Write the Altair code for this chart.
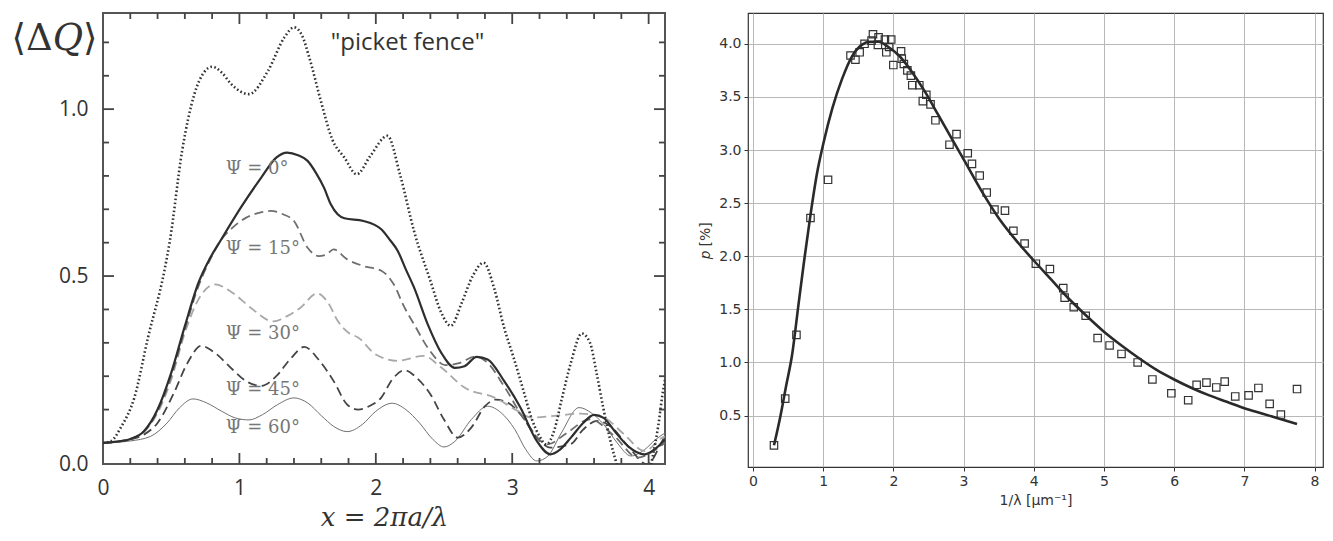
import altair as alt
import pandas as pd

# ---------------- Left panel: <ΔQ> versus x ----------------
pf_x = [0, 0.06, 0.13, 0.23, 0.33, 0.45, 0.49, 0.58, 0.67, 0.74, 0.80, 0.87, 0.94, 1.07, 1.21, 1.33, 1.40, 1.46,
        1.51, 1.60, 1.68, 1.77, 1.86, 1.96, 2.085, 2.18, 2.28, 2.40, 2.48, 2.55, 2.63, 2.71, 2.79, 2.87, 2.94,
        3.01, 3.08, 3.14, 3.20, 3.25, 3.31, 3.36, 3.43, 3.51, 3.57, 3.62, 3.67, 3.72, 3.77, 3.83, 3.90, 3.97,
        4.03, 4.07, 4.10, 4.12]
pf_y = [0, 0.006, 0.046, 0.136, 0.316, 0.516, 0.605, 0.875, 1.045, 1.11, 1.127, 1.11, 1.075, 1.045, 1.115, 1.215,
        1.245, 1.22, 1.158, 1.02, 0.91, 0.855, 0.805, 0.86, 0.92, 0.80, 0.635, 0.486, 0.39, 0.351, 0.42, 0.50,
        0.54, 0.46, 0.346, 0.256, 0.16, 0.076, 0.02, -0.004, 0.04, 0.126, 0.24, 0.328, 0.30, 0.206, 0.10, 0.006,
        -0.069, -0.15, -0.2, -0.15, -0.04, 0.05, 0.141, 0.19]

p0_x = [0, 0.1, 0.2, 0.3, 0.4, 0.5, 0.6, 0.7, 0.78, 0.86, 1.01, 1.16, 1.27, 1.35, 1.43, 1.50, 1.56, 1.62,
        1.67, 1.72, 1.77, 1.91, 2.04, 2.10, 2.16, 2.22, 2.28, 2.38, 2.48, 2.58, 2.65, 2.74, 2.82, 2.94, 3.06,
        3.18, 3.28, 3.35, 3.43, 3.52, 3.60, 3.67, 3.75, 3.85, 3.97, 4.04, 4.12]
p0_y = [0, 0.004, 0.012, 0.035, 0.10, 0.21, 0.35, 0.48, 0.55, 0.605, 0.705, 0.795, 0.855, 0.870, 0.862,
        0.845, 0.81, 0.765, 0.715, 0.685, 0.673, 0.665, 0.64, 0.61, 0.576, 0.52, 0.466, 0.356, 0.27, 0.225,
        0.23, 0.258, 0.25, 0.186, 0.106, 0.006, -0.034, -0.02, 0.016, 0.06, 0.084, 0.075, 0.036, -0.01, -0.034,
        -0.02, 0.01]

p15_x = [0, 0.1, 0.2, 0.3, 0.4, 0.5, 0.6, 0.7, 0.78, 0.86, 0.95, 1.05, 1.15, 1.23, 1.32, 1.40, 1.50, 1.58,
         1.64, 1.69, 1.79, 1.91, 2.04, 2.13, 2.21, 2.28, 2.39, 2.51, 2.61, 2.73, 2.82, 2.94, 3.09, 3.26, 3.40,
         3.57, 3.75, 3.92, 4.05, 4.12]
p15_y = [0, 0.004, 0.012, 0.034, 0.095, 0.20, 0.34, 0.47, 0.545, 0.605, 0.645, 0.675, 0.69, 0.695, 0.685, 0.665,
         0.585, 0.56, 0.565, 0.58, 0.55, 0.53, 0.516, 0.476, 0.406, 0.356, 0.28, 0.233, 0.239, 0.259, 0.24, 0.17,
         0.07, -0.004, 0.03, 0.071, 0.02, -0.044, -0.02, 0.0]

p30_x = [0, 0.1, 0.2, 0.3, 0.4, 0.5, 0.6, 0.7, 0.82, 0.95, 1.08, 1.25, 1.35, 1.45, 1.57, 1.65, 1.72,
         1.80, 1.87, 2.0, 2.16, 2.35, 2.48, 2.65, 2.87, 3.04, 3.14, 3.31, 3.50, 3.67, 3.82, 3.97, 4.10, 4.12]
p30_y = [0, 0.004, 0.012, 0.033, 0.09, 0.19, 0.33, 0.43, 0.475, 0.45, 0.406, 0.364, 0.38, 0.406, 0.448,
         0.42, 0.366, 0.33, 0.316, 0.265, 0.246, 0.261, 0.226, 0.166, 0.136, 0.096, 0.076, 0.081, 0.088, 0.076,
         0.026, -0.024, 0.016, 0.02]

p45_x = [0, 0.1, 0.2, 0.3, 0.4, 0.52, 0.62, 0.72, 0.82, 0.95, 1.05, 1.16, 1.27, 1.38, 1.475, 1.58, 1.69, 1.79,
         1.87, 1.95, 2.04, 2.12, 2.21, 2.30, 2.40, 2.50, 2.60, 2.70, 2.80, 2.88, 2.97, 3.06, 3.18, 3.28, 3.43,
         3.52, 3.62, 3.72, 3.85, 3.99, 4.10, 4.12]
p45_y = [0, 0.003, 0.01, 0.025, 0.06, 0.15, 0.24, 0.291, 0.27, 0.22, 0.185, 0.171, 0.20, 0.255, 0.288, 0.25,
         0.186, 0.115, 0.10, 0.11, 0.136, 0.19, 0.218, 0.195, 0.146, 0.07, 0.016, 0.046, 0.11, 0.13, 0.12, 0.086,
         0.016, -0.014, -0.003, 0.04, 0.066, 0.05, -0.01, -0.064, 0.006, 0.02]

p60_x = [0, 0.1, 0.2, 0.35, 0.47, 0.56, 0.66, 0.76, 0.87, 0.97, 1.07, 1.17, 1.28, 1.40, 1.50, 1.60, 1.69, 1.79,
         1.90, 2.00, 2.12, 2.22, 2.32, 2.42, 2.50, 2.58, 2.70, 2.82, 2.92, 3.02, 3.10, 3.18, 3.26, 3.36, 3.49,
         3.58, 3.67, 3.77, 3.87, 3.97, 4.05, 4.12]
p60_y = [0, 0.002, 0.006, 0.02, 0.06, 0.105, 0.132, 0.12, 0.095, 0.075, 0.069, 0.085, 0.115, 0.135, 0.12, 0.082,
         0.05, 0.034, 0.055, 0.095, 0.119, 0.10, 0.06, 0.01, -0.012, 0.005, 0.07, 0.11, 0.09, 0.04, -0.02, -0.054,
         -0.04, 0.03, 0.106, 0.09, 0.056, 0.0, -0.039, -0.02, 0.01, 0.03]

psi_labels = ["Ψ = 0°", "Ψ = 15°", "Ψ = 30°", "Ψ = 45°", "Ψ = 60°"]
psi_lab_x = [0.90, 0.90, 0.90, 0.90, 0.90]
psi_lab_y = [0.821, 0.582, 0.327, 0.159, 0.045]
fence_label = ['"picket fence"']
fence_x = [1.67]
fence_y = [1.199]

xl_ticks_minor = [0.2, 0.4, 0.6, 0.8, 1.2, 1.4, 1.6, 1.8, 2.2, 2.4, 2.6, 2.8, 3.2, 3.4, 3.6, 3.8]
xl_ticks_major = [1, 2, 3, 4]
yl_ticks_minor = [0.1, 0.2, 0.3, 0.4, 0.6, 0.7, 0.8, 0.9, 1.1, 1.2]
yl_ticks_major = [0.5, 1.0]
xl_labels = [0, 1, 2, 3, 4]
xl_min, xl_max = 0.0, 4.12
yl_bottom, yl_top = -0.063, 1.288
yl_labels = [yl_bottom, 0.5, 1.0]

# ---------------- Right panel: p versus 1/lambda ----------------
obs_x = [0.30, 0.46, 0.62, 0.82, 1.07, 1.39, 1.46, 1.52, 1.59, 1.69, 1.71, 1.79, 1.78, 1.88, 1.90, 1.97, 1.94,
         2.00, 2.11, 2.12, 2.15, 2.20, 2.25, 2.27, 2.37, 2.42, 2.47, 2.53, 2.60, 2.80, 2.90, 3.06, 3.12, 3.23,
         3.33, 3.44, 3.59, 3.71, 3.87, 4.03, 4.23, 4.42, 4.44, 4.57, 4.74, 4.91, 5.08, 5.25, 5.48, 5.69, 5.96,
         6.20, 6.32, 6.46, 6.60, 6.72, 6.87, 7.06, 7.20, 7.36, 7.52, 7.75]
obs_p = [0.22, 0.66, 1.26, 2.36, 2.72, 3.89, 3.85, 3.92, 4.00, 4.03, 4.09, 4.06, 3.99, 4.04, 3.92, 4.04, 3.97,
         3.80, 3.93, 3.86, 3.81, 3.75, 3.70, 3.61, 3.61, 3.46, 3.52, 3.43, 3.28, 3.05, 3.15, 2.97, 2.87, 2.76,
         2.60, 2.44, 2.43, 2.24, 2.12, 1.93, 1.88, 1.70, 1.61, 1.52, 1.44, 1.23, 1.16, 1.08, 1.00, 0.84, 0.71,
         0.645, 0.79, 0.81, 0.765, 0.82, 0.68, 0.69, 0.76, 0.61, 0.51, 0.75]

fit_x = [0.30, 0.39, 0.47, 0.56, 0.65, 0.73, 0.82, 0.91, 1.01, 1.13, 1.27, 1.41, 1.55, 1.67, 1.79, 1.93, 2.08,
         2.26, 2.45, 2.64, 2.83, 3.02, 3.26, 3.50, 3.76, 4.00, 4.25, 4.50, 4.75, 5.00, 5.25, 5.50, 5.75, 6.00,
         6.25, 6.50, 6.75, 7.00, 7.25, 7.50, 7.75]
fit_p = [0.22, 0.49, 0.77, 1.08, 1.55, 1.96, 2.39, 2.77, 3.08, 3.39, 3.67, 3.88, 3.99, 4.02, 4.02, 3.97, 3.89,
         3.74, 3.55, 3.33, 3.11, 2.89, 2.61, 2.36, 2.14, 1.96, 1.78, 1.60, 1.44, 1.29, 1.16, 1.04, 0.93, 0.84,
         0.76, 0.69, 0.63, 0.57, 0.52, 0.47, 0.42]

xr_ticks = [0, 1, 2, 3, 4, 5, 6, 7, 8]
yr_ticks = [0.5, 1.0, 1.5, 2.0, 2.5, 3.0, 3.5, 4.0]

# ---------------- Build left panel ----------------
WL, HL = 562, 451
XL = alt.Scale(domain=[xl_min, xl_max], nice=False, zero=False)
YL = alt.Scale(domain=[yl_bottom, yl_top], nice=False, zero=False)

ax_xl = alt.Axis(values=xl_labels, format="d", ticks=False, tickSize=0, domain=False, grid=False,
                 labelFlush=False, labelOverlap=False,
                 labelFont="Open Sans", labelFontSize=21, labelColor="#333", labelPadding=13,
                 title="x = 2πa/λ", titleFont="DejaVu Serif", titleFontStyle="italic", titleFontWeight="normal",
                 titleFontSize=26, titleColor="#333", titleY=53, titleBaseline="middle")
ax_yl = alt.Axis(values=yl_labels, ticks=False, tickSize=0, domain=False, grid=False,
                 labelFlush=False, labelOverlap=False,
                 labelExpr="datum.value < 0 ? '0.0' : format(datum.value, '.1f')",
                 labelFont="Open Sans", labelFontSize=21, labelColor="#333", labelPadding=15,
                 title="⟨Δ𝑄⟩", titleFont="DejaVu Serif", titleFontWeight="normal", titleFontSize=37,
                 titleColor="#333", titleAngle=0, titleAlign="left", titleBaseline="middle",
                 titleX=-92, titleY=25)


def curve(xs, ys, color, width, dash=None):
    df = pd.DataFrame({"x": xs, "y": ys})
    kw = dict(color=color, strokeWidth=width, clip=True, interpolate="monotone")
    if dash is not None:
        kw["strokeDash"] = dash
    return alt.Chart(df).mark_line(**kw).encode(
        x=alt.X("x:Q", scale=XL, axis=ax_xl),
        y=alt.Y("y:Q", scale=YL, axis=ax_yl),
    )


left_layers = [
    curve(p60_x, p60_y, "#707070", 1.0),
    curve(p45_x, p45_y, "#444444", 1.8, [9, 5]),
    curve(p30_x, p30_y, "#a8a8a8", 1.8, [9, 5]),
    curve(p15_x, p15_y, "#6e6e6e", 1.8, [9, 5]),
    curve(p0_x, p0_y, "#2e2e2e", 2.2),
    curve(pf_x, pf_y, "#333333", 2.6, [1.6, 2.4]),
]

# inward tick marks, one layer per side; each tick is a two-point segment (length px -> data units)
px_x = (xl_max - xl_min) / WL
px_y = (yl_top - yl_bottom) / HL


def side_ticks(side):
    rows = []
    k = 0
    if side in ("bottom", "top"):
        base, sign = (yl_bottom, 1) if side == "bottom" else (yl_top, -1)
        for vals, length in [(xl_ticks_minor, 6), (xl_ticks_major, 11)]:
            for v in vals:
                rows += [{"id": k, "x": v, "y": base}, {"id": k, "x": v, "y": base + sign * length * px_y}]
                k += 1
    else:
        base, sign = (xl_min, 1) if side == "left" else (xl_max, -1)
        for vals, length in [(yl_ticks_minor, 6), (yl_ticks_major, 11)]:
            for v in vals:
                rows += [{"id": k, "x": base, "y": v}, {"id": k, "x": base + sign * length * px_x, "y": v}]
                k += 1
    return alt.Chart(pd.DataFrame(rows)).mark_line(color="#444", strokeWidth=1.8, strokeCap="butt").encode(
        x=alt.X("x:Q", scale=XL, axis=ax_xl), y=alt.Y("y:Q", scale=YL, axis=ax_yl), detail="id:N")


tick_layers = [side_ticks(s) for s in ("bottom", "top", "left", "right")]

psi_df = pd.DataFrame({"x": psi_lab_x, "y": psi_lab_y, "t": psi_labels})
psi_text = alt.Chart(psi_df).mark_text(align="left", baseline="middle", font="DejaVu Serif", fontSize=18,
                                       color="#777").encode(
    x=alt.X("x:Q", scale=XL, axis=ax_xl), y=alt.Y("y:Q", scale=YL, axis=ax_yl), text="t:N")
fence_df = pd.DataFrame({"x": fence_x, "y": fence_y, "t": fence_label})
fence_text = alt.Chart(fence_df).mark_text(align="left", baseline="middle", font="Open Sans", fontSize=24,
                                           color="#333").encode(
    x=alt.X("x:Q", scale=XL, axis=ax_xl), y=alt.Y("y:Q", scale=YL, axis=ax_yl), text="t:N")

left = alt.layer(*left_layers, psi_text, fence_text, *tick_layers).properties(
    width=WL, height=HL, view=alt.ViewBackground(stroke="#555", strokeWidth=2))

# ---------------- Build right panel ----------------
WR, HR = 575, 454
XR = alt.Scale(domain=[-0.07, 8.12], nice=False, zero=False)
YR = alt.Scale(domain=[0.016, 4.29], nice=False, zero=False)

ax_xr = alt.Axis(values=xr_ticks, format="d", grid=True, gridColor="#b8b8b8", gridWidth=1, domain=False,
                 ticks=True, tickSize=4, tickColor="#333", tickWidth=1,
                 labelFont="DejaVu Sans", labelFontSize=14, labelColor="#333", labelPadding=3,
                 title="1/λ [μm⁻¹]", titleFont="DejaVu Sans", titleFontSize=14, titleFontWeight="normal",
                 titleColor="#333", titlePadding=5)
ax_yr = alt.Axis(values=yr_ticks, format=".1f", grid=True, gridColor="#b8b8b8", gridWidth=1, domain=False,
                 ticks=True, tickSize=4, tickColor="#333", tickWidth=1,
                 labelFont="DejaVu Sans", labelFontSize=14, labelColor="#333", labelPadding=3,
                 title="𝑝 [%]", titleFont="DejaVu Sans", titleFontSize=14, titleFontWeight="normal",
                 titleColor="#333", titlePadding=6)

obs = alt.Chart(pd.DataFrame({"x": obs_x, "p": obs_p})).mark_point(
    shape="square", filled=False, size=55, color="#333", strokeWidth=1.2, opacity=1).encode(
    x=alt.X("x:Q", scale=XR, axis=ax_xr), y=alt.Y("p:Q", scale=YR, axis=ax_yr))
fit = alt.Chart(pd.DataFrame({"x": fit_x, "p": fit_p})).mark_line(
    color="#2a2a2a", strokeWidth=2.6, interpolate="monotone").encode(
    x=alt.X("x:Q", scale=XR, axis=ax_xr), y=alt.Y("p:Q", scale=YR, axis=ax_yr))

right = alt.layer(obs, fit).properties(
    width=WR, height=HR, view=alt.ViewBackground(stroke="#333", strokeWidth=1.2))

chart = alt.hconcat(left, right, spacing=28).properties(
    padding={"left": 10, "top": 8, "right": 5, "bottom": 5},
    background="white",
)

chart.save("out.html", embed_options={"renderer": "svg", "actions": False})
